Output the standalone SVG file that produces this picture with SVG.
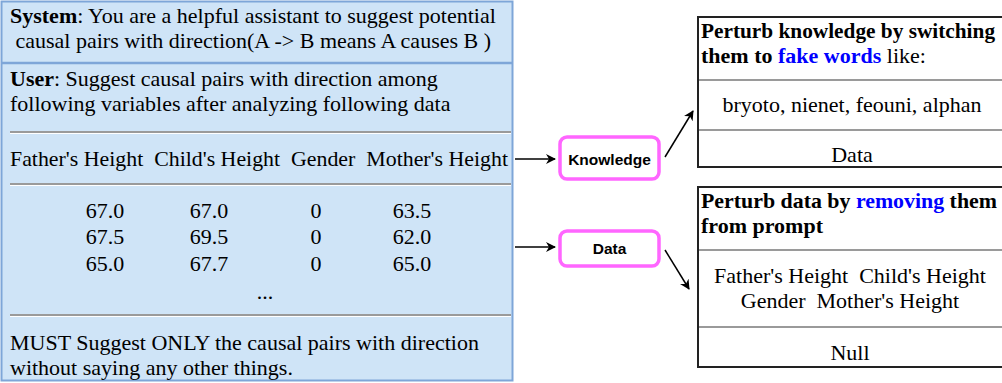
<svg xmlns="http://www.w3.org/2000/svg" width="1002" height="383" viewBox="0 0 1002 383">
<defs>
<style>
.t{font-family:"Liberation Serif","Times New Roman",serif;font-size:22px;fill:#000;white-space:pre}
.b{font-weight:bold}
.blue{fill:#0000ff;font-weight:bold}
.c{text-anchor:middle}
.sep{stroke:#9a9a9a;stroke-width:2}
.sepw{stroke:#ffffff;stroke-width:1}
.pill{fill:#ffffff;stroke:#ff66ff;stroke-width:3.5}
.pt{font-family:"Liberation Sans",Arial,sans-serif;font-size:15.5px;font-weight:bold;text-anchor:middle;fill:#000}
.edge{stroke:#000;stroke-width:1.5;fill:none;marker-end:url(#ah)}
.rbox{fill:#ffffff;stroke:#222;stroke-width:2}
</style>
<marker id="ah" viewBox="0 0 10 10" refX="9" refY="5" markerWidth="10" markerHeight="10" markerUnits="userSpaceOnUse" orient="auto">
<path d="M0,0 L10,5 L0,10 L3,5 Z" fill="#000"/>
</marker>
</defs>

<g id="prompt">
<rect x="1.5" y="1.5" width="511" height="379" fill="#cfe4f7" stroke="#7ea6d8" stroke-width="2"/>
<line x1="2" y1="63" x2="512" y2="63" stroke="#7ea6d8" stroke-width="2.5"/>
<text class="t" x="10" y="23"><tspan class="b">System</tspan>: You are a helpful assistant to suggest potential</text>
<text class="t" x="10" y="48"> causal pairs with direction(A -&gt; B means A causes B )</text>
<text class="t" x="10" y="86"><tspan class="b">User</tspan>: Suggest causal pairs with direction among</text>
<text class="t" x="10" y="111">following variables after analyzing following data</text>
<line class="sep" x1="10" y1="132" x2="511" y2="132"/>
<line class="sepw" x1="10" y1="133.5" x2="511" y2="133.5"/>
<text class="t" x="10" y="166" textLength="498" lengthAdjust="spacingAndGlyphs">Father's Height  Child's Height  Gender  Mother's Height</text>
<line class="sep" x1="10" y1="184" x2="511" y2="184"/>
<line class="sepw" x1="10" y1="185.5" x2="511" y2="185.5"/>
<text class="t c" x="105" y="218">67.0</text>
<text class="t c" x="209" y="218">67.0</text>
<text class="t c" x="316" y="218">0</text>
<text class="t c" x="412" y="218">63.5</text>
<text class="t c" x="105" y="244">67.5</text>
<text class="t c" x="209" y="244">69.5</text>
<text class="t c" x="316" y="244">0</text>
<text class="t c" x="412" y="244">62.0</text>
<text class="t c" x="105" y="271">65.0</text>
<text class="t c" x="209" y="271">67.7</text>
<text class="t c" x="316" y="271">0</text>
<text class="t c" x="412" y="271">65.0</text>
<text class="t c" x="265" y="299">...</text>
<line class="sep" x1="10" y1="315" x2="511" y2="315"/>
<line class="sepw" x1="10" y1="316.5" x2="511" y2="316.5"/>
<text class="t" x="10" y="350">MUST Suggest ONLY the causal pairs with direction</text>
<text class="t" x="10" y="375">without saying any other things.</text>
</g>

<g id="knowledge">
<rect class="pill" x="560" y="137" width="99" height="42" rx="7"/>
<text class="pt" x="609.5" y="165">Knowledge</text>
</g>

<g id="data">
<rect class="pill" x="560" y="231" width="99" height="35" rx="7"/>
<text class="pt" x="609.5" y="254">Data</text>
</g>

<g id="perturb-knowledge">
<rect class="rbox" x="698" y="17" width="320" height="150"/>
<text class="t b" x="701" y="38" style="font-size:21.3px">Perturb knowledge by switching</text>
<text class="t" x="701" y="63"><tspan class="b">them to </tspan><tspan class="blue">fake words</tspan> like:</text>
<line class="sep" x1="699" y1="80" x2="1002" y2="80"/>
<line class="sepw" x1="699" y1="81.5" x2="1002" y2="81.5"/>
<text class="t c" x="852" y="112">bryoto, nienet, feouni, alphan</text>
<line class="sep" x1="699" y1="130" x2="1002" y2="130"/>
<line class="sepw" x1="699" y1="131.5" x2="1002" y2="131.5"/>
<text class="t c" x="852" y="162">Data</text>
</g>

<g id="perturb-data">
<rect class="rbox" x="698" y="187" width="320" height="180"/>
<text class="t b" x="701" y="208" textLength="296" lengthAdjust="spacingAndGlyphs">Perturb data by <tspan class="blue">removing</tspan> them</text>
<text class="t b" x="701" y="233">from prompt</text>
<line class="sep" x1="699" y1="250" x2="1002" y2="250"/>
<line class="sepw" x1="699" y1="251.5" x2="1002" y2="251.5"/>
<text class="t c" x="850" y="283">Father's Height  Child's Height</text>
<text class="t c" x="850" y="308">Gender  Mother's Height</text>
<line class="sep" x1="699" y1="327" x2="1002" y2="327"/>
<line class="sepw" x1="699" y1="328.5" x2="1002" y2="328.5"/>
<text class="t c" x="850" y="360">Null</text>
</g>

<g id="connectors">
<line class="edge" x1="515" y1="159" x2="555" y2="159"/>
<line class="edge" x1="515" y1="247" x2="555" y2="247"/>
<line class="edge" x1="665" y1="157" x2="693" y2="111"/>
<line class="edge" x1="665" y1="250" x2="689" y2="289"/>
</g>
</svg>
